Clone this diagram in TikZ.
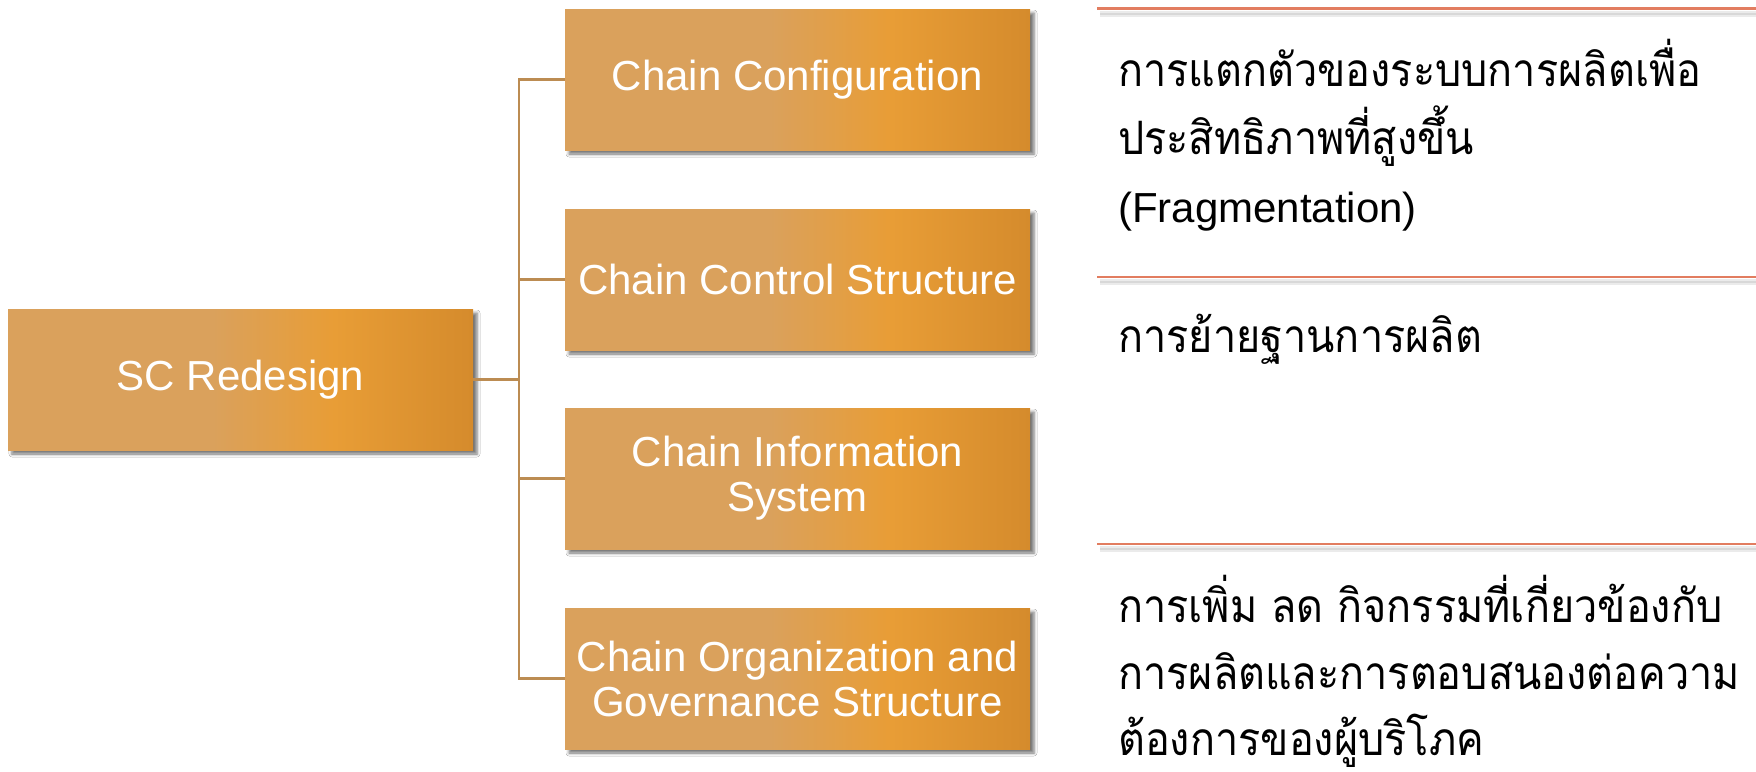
\documentclass[tikz,border=0pt]{standalone}
\usepackage{fontspec}
\setmainfont{Liberation Sans}
\newfontfamily\thaifont[Script=Thai,FakeStretch=0.9]{Loma}
\usetikzlibrary{shadows.blur}
\definecolor{conncol}{RGB}{188,140,82}
\definecolor{rulecol}{RGB}{226,125,96}
\pgfdeclarehorizontalshading{boxshade}{100bp}{rgb(0bp)=(0.855,0.631,0.361); rgb(47bp)=(0.855,0.631,0.361); rgb(60bp)=(0.91,0.616,0.212); rgb(75bp)=(0.835,0.545,0.173); rgb(100bp)=(0.835,0.545,0.173)}
\tikzset{
  boxnode/.style={shading=boxshade, minimum width=465pt, minimum height=141pt, inner sep=0pt,
    text=white, font=\fontsize{42}{45}\selectfont, align=center,
    blur shadow={shadow xshift=4pt, shadow yshift=-4pt, shadow blur radius=3pt, shadow opacity=55}},
  conn/.style={draw=conncol, line width=2.5pt},
  rulel/.style={draw=rulecol, line width=2.5pt},
  ruleshadow/.style={draw=black, line width=4pt, opacity=0.08},
  rt/.style={anchor=base west, inner sep=0pt, font=\fontsize{42}{50}\selectfont, text=black},
  rtt/.style={rt, font=\fontsize{46}{50}\selectfont\thaifont}
}
\begin{document}
\begin{tikzpicture}[x=1pt,y=-1pt]
\useasboundingbox[fill=white] (0,0) rectangle (1756,771);
% boxes
\node[boxnode] (sc) at (240.5,379.5) {SC Redesign};
\node[boxnode] (c1) at (797.5,79.5) {Chain Configuration};
\node[boxnode] (c2) at (797.5,279.5) {Chain Control Structure};
\node[boxnode] (c3) at (797.5,478.5) {Chain Information\\System};
\node[boxnode] (c4) at (797.5,678.5) {Chain Organization and\\Governance Structure};
% connectors
\coordinate (tk) at (519,379.5);
\draw[conn] (sc.east) -- (tk);
\draw[conn] (c1.west) -- (c1.west -| tk) -- (c4.west -| tk) -- (c4.west);
\draw[conn] (c2.west) -- (c2.west -| tk);
\draw[conn] (c3.west) -- (c3.west -| tk);
% right rules
\foreach \yy in {8.5,277,544}{
  \draw[ruleshadow] (1100,\yy+4) -- (1756,\yy+4);
  \draw[ruleshadow] (1100,\yy+6) -- (1756,\yy+6);
  \draw[rulel] (1097,\yy) -- (1756,\yy);
}
% right texts
\node[rtt] (a1) at (1118,86) {การแตกตัวของระบบการผลิตเพื่อ};
\node[rtt] (a2) at (1118,154) {ประสิทธิภาพที่สูงขึ้น};
\node[rt] (a3) at (1118,222) {(Fragmentation)};
\node[rtt] (b1) at (1118,352) {การย้ายฐานการผลิต};
\node[rtt] (d1) at (1118,622) {การเพิ่ม ลด กิจกรรมที่เกี่ยวข้องกับ};
\node[rtt] (d2) at (1118,689) {การผลิตและการตอบสนองต่อความ};
\node[rtt] (d3) at (1118,755) {ต้องการของผู้บริโภค};
\end{tikzpicture}
\end{document}
